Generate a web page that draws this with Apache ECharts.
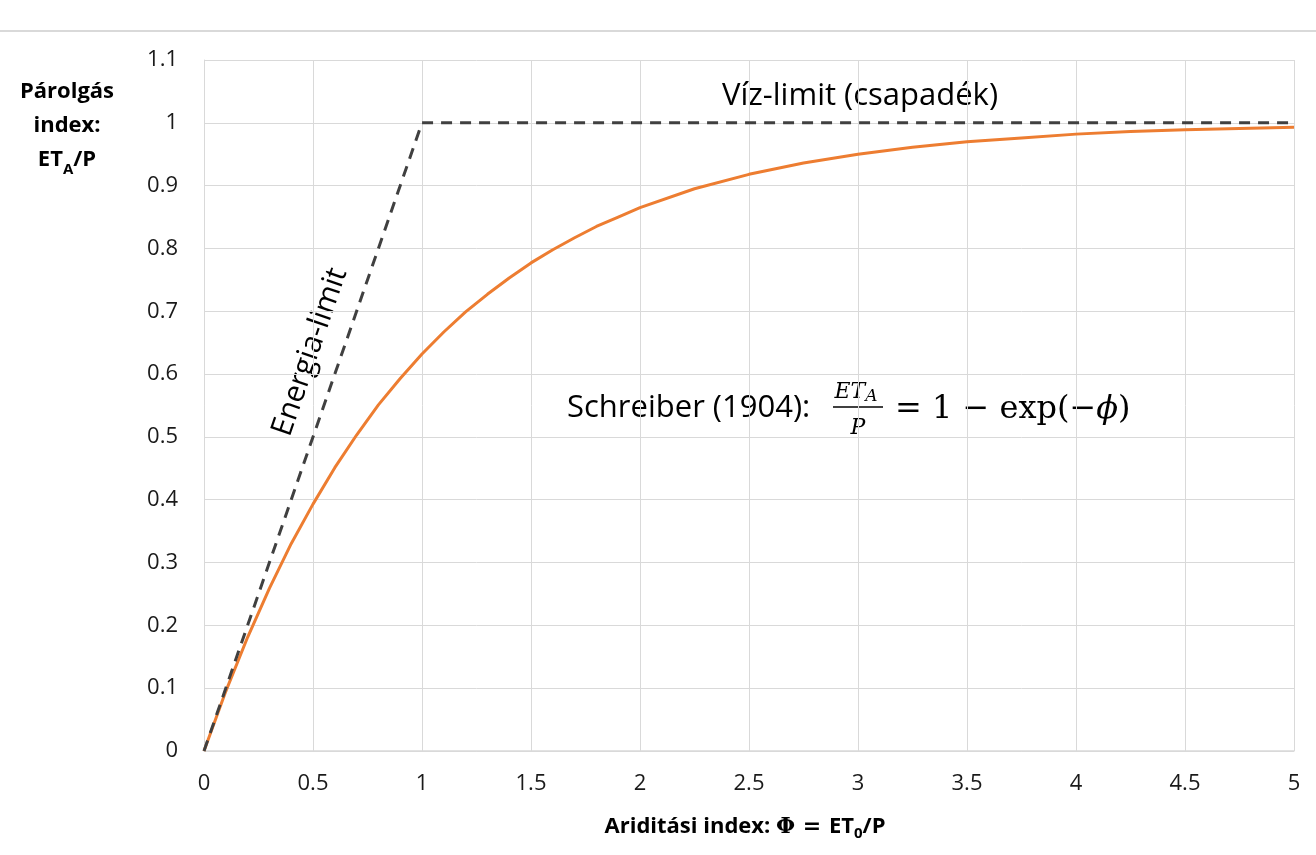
<!DOCTYPE html>
<html>
<head>
<meta charset="utf-8">
<script src="https://cdn.jsdelivr.net/npm/echarts@6/dist/echarts.min.js"></script>
<style>
html,body{margin:0;padding:0;background:#fff;}
#chart{width:1316px;height:855px;}
</style>
</head>
<body>
<div id="chart"></div>
<script>
// ---- data ----
const phiValues = [0, 0.1, 0.2, 0.3, 0.4, 0.5, 0.6, 0.7, 0.8, 0.9, 1.0, 1.1, 1.2, 1.3, 1.4, 1.5, 1.6, 1.7, 1.8, 1.9, 2.0,
                   2.25, 2.5, 2.75, 3.0, 3.25, 3.5, 3.75, 4.0, 4.25, 4.5, 4.75, 5.0];
const etValues  = [0, 0.095, 0.181, 0.259, 0.330, 0.393, 0.451, 0.503, 0.551, 0.593, 0.632, 0.667, 0.699, 0.727, 0.753, 0.777, 0.798, 0.817, 0.835, 0.850, 0.865,
                   0.895, 0.918, 0.936, 0.950, 0.961, 0.970, 0.976, 0.982, 0.986, 0.989, 0.991, 0.993];
const limitX = [0, 1, 5];
const limitY = [0, 1, 1];
const xTicks = { min: 0, max: 5, interval: 0.5 };
const yTicks = { min: 0, max: 1.1, interval: 0.1 };

const FONT = 'Open Sans';
const MATH = 'DejaVu Serif';

const chart = echarts.init(document.getElementById('chart'), null, { renderer: 'canvas' });

const curve = phiValues.map((x, i) => [x, etValues[i]]);
const limit = limitX.map((x, i) => [x, limitY[i]]);

chart.setOption({
  animation: false,
  backgroundColor: '#ffffff',
  grid: { left: 204, right: 22, top: 60, bottom: 104, containLabel: false },
  xAxis: {
    type: 'value', min: xTicks.min, max: xTicks.max, interval: xTicks.interval,
    axisLine: { show: true, lineStyle: { color: '#d9d9d9', width: 1.5 } },
    axisTick: { show: false },
    splitLine: { show: true, lineStyle: { color: '#d9d9d9', width: 1 } },
    axisLabel: { color: '#1a1a1a', fontFamily: FONT, fontSize: 22, margin: 22 }
  },
  yAxis: {
    type: 'value', min: yTicks.min, max: yTicks.max, interval: yTicks.interval,
    axisLine: { show: true, lineStyle: { color: '#d9d9d9', width: 1 } },
    axisTick: { show: false },
    splitLine: { show: true, lineStyle: { color: '#d9d9d9', width: 1 } },
    axisLabel: { color: '#1a1a1a', fontFamily: FONT, fontSize: 22, margin: 26,
      formatter: v => String(Math.round(v * 10) / 10) }
  },
  series: [
    {
      type: 'line', data: curve, smooth: false, symbol: 'none',
      lineStyle: { color: '#ed7d31', width: 3, join: 'round' }, z: 3
    },
    {
      type: 'line', data: limit, symbol: 'none',
      lineStyle: { color: '#404040', width: 3, type: [11, 8] }, z: 4
    }
  ],
  graphic: [
    { type: 'line', shape: { x1: 0, y1: 31, x2: 1316, y2: 31 }, style: { stroke: '#d9d9d9', lineWidth: 2 } },
    { type: 'text', x: 860, y: 96, style: { text: 'Víz-limit (csapadék)', font: '31px ' + FONT, fill: '#000', align: 'center', verticalAlign: 'middle' } },
    { type: 'text', x: 310, y: 352, rotation: 71 * Math.PI / 180, style: { text: 'Energia-limit', font: '30px ' + FONT, fill: '#000', align: 'center', verticalAlign: 'middle' } },
    { type: 'text', x: 567, y: 408, style: { text: 'Schreiber (1904):', font: '31px ' + FONT, fill: '#000', align: 'left', verticalAlign: 'middle' } },
    { type: 'text', x: 856, y: 392, style: {
        text: '{i|ET}{s|A}', align: 'center', verticalAlign: 'middle',
        rich: { i: { font: 'italic 22px ' + MATH, fill: '#000', verticalAlign: 'middle', lineHeight: 26 },
                s: { font: 'italic 17px ' + MATH, fill: '#000', verticalAlign: 'bottom', lineHeight: 24 } } } },
    { type: 'line', shape: { x1: 833, y1: 407, x2: 883, y2: 407 }, style: { stroke: '#000', lineWidth: 1.5 } },
    { type: 'text', x: 858, y: 428, style: { text: 'P', font: 'italic 22px ' + MATH, fill: '#000', align: 'center', verticalAlign: 'middle' } },
    { type: 'text', x: 895, y: 410, style: {
        text: '{n|= 1 − exp(−}{i|ϕ}{n|)}', align: 'left', verticalAlign: 'middle',
        rich: { n: { font: '32px ' + MATH, fill: '#000' }, i: { font: 'italic 32px ' + MATH, fill: '#000' } } } },
    { type: 'text', x: 67, y: 126, style: {
        text: '{b|Párolgás}\n{b|index:}\n{b|ET}{sub|A}{b|/P}', align: 'center', verticalAlign: 'middle',
        rich: { b: { font: 'bold 22px ' + FONT, fill: '#000', lineHeight: 34, verticalAlign: 'middle' },
                sub: { font: 'bold 15px ' + FONT, fill: '#000', lineHeight: 30, verticalAlign: 'bottom' } } } },
    { type: 'text', x: 745, y: 827, style: {
        text: '{b|Ariditási index: }{m|Φ = }{b|ET}{sub|0}{b|/P}', align: 'center', verticalAlign: 'middle',
        rich: { b: { font: 'bold 22px ' + FONT, fill: '#000', lineHeight: 28, verticalAlign: 'middle' },
                m: { font: 'bold 22px ' + MATH, fill: '#000', lineHeight: 28, verticalAlign: 'middle' },
                sub: { font: 'bold 15px ' + FONT, fill: '#000', lineHeight: 26, verticalAlign: 'bottom' } } } }
  ]
});
</script>
</body>
</html>
